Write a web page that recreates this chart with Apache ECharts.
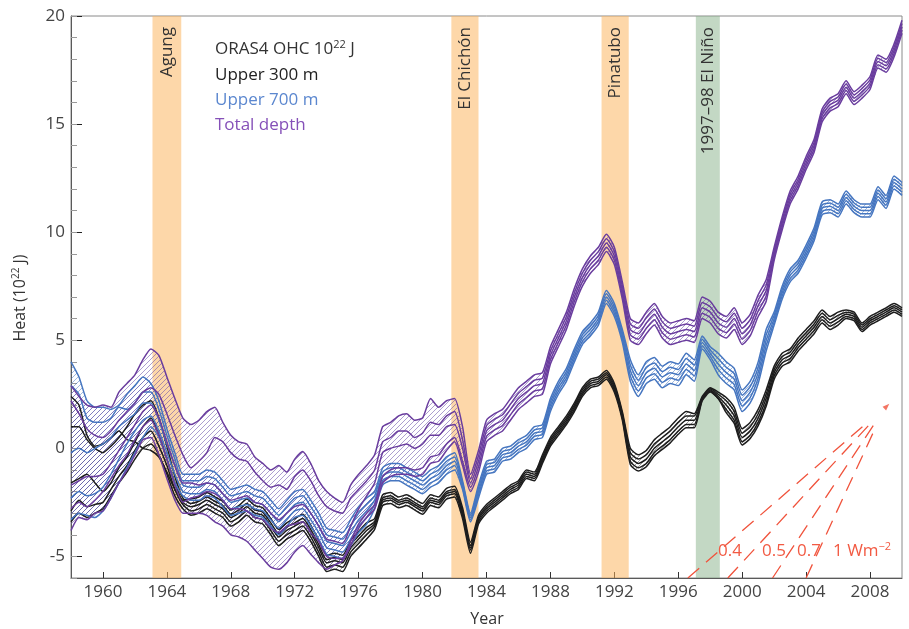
<!DOCTYPE html>
<html><head><meta charset="utf-8">
<script src="https://cdn.jsdelivr.net/npm/echarts@6/dist/echarts.min.js"></script>
<style>html,body{margin:0;padding:0;background:#fff}#c{width:909px;height:629px}</style>
</head><body><div id="c"></div>
<script>
// ---- time base: half-year steps 1958.0 .. 2010.0
const START_YEAR = 1958, STEP = 0.5, N = 105;
const years = Array.from({length: N}, (_, i) => START_YEAR + i * STEP);

// ---- Upper 300 m (black), 5 ensemble members
const black1 = [2.4,2.0,0.6,0.1,0.2,0.5,0.8,0.4,0.3,0.0,-0.1,-0.4,-1.1,-1.9,-2.4,
 -2.35,-2.25,-2.05,-2.25,-2.45,-2.85,-2.65,-2.35,-2.65,-2.75,-3.25,-3.75,-3.45,-3.25,-3.05,-3.55,-4.25,-4.95,-4.85,-4.95,-4.25,-3.85,-3.45,-3.25,-2.15,-2.05,-2.25,-2.15,-2.35,-2.55,-2.15,-2.25,-1.85,-1.75,-2.75,-4.35,
 -3.1,-2.6,-2.3,-2.0,-1.7,-1.5,-1.0,-1.1,-0.3,0.5,1.0,1.5,2.1,2.8,3.2,3.3,3.6,3.0,1.7,0.0,-0.3,-0.1,0.4,0.7,1.0,1.4,1.7,1.6,2.4,2.8,2.6,2.35,1.9,0.9,1.2,1.8,2.7,3.8,4.4,4.6,5.1,5.5,5.9,6.4,6.1,6.3,6.4,6.3,5.8,6.1,6.3,6.5,6.7,6.5];
const black2 = [1.0,1.0,0.4,0.0,-0.2,0.1,0.5,1.0,1.6,2.0,2.2,1.4,0.1,-1.3,-2.3,
 -2.55,-2.45,-2.25,-2.45,-2.65,-3.05,-2.85,-2.55,-2.85,-2.95,-3.45,-3.95,-3.65,-3.45,-3.25,-3.75,-4.45,-5.15,-5.05,-5.15,-4.45,-4.05,-3.65,-3.4,-2.3,-2.2,-2.4,-2.3,-2.5,-2.7,-2.3,-2.4,-2.0,-1.9,-2.9,-4.5,
 -3.2,-2.7,-2.4,-2.1,-1.8,-1.6,-1.1,-1.2,-0.4,0.4,0.9,1.4,2.0,2.7,3.1,3.2,3.5,2.9,1.6,-0.2,-0.5,-0.3,0.2,0.5,0.8,1.2,1.5,1.5,2.35,2.75,2.5,2.2,1.7,0.7,1.0,1.6,2.5,3.65,4.25,4.45,4.95,5.35,5.75,6.25,5.95,6.15,6.3,6.2,5.7,6.0,6.2,6.4,6.6,6.4];
const black3 = [-1.6,-1.4,-1.2,-1.6,-2.0,-1.6,-0.9,-0.4,0.3,1.0,1.4,0.6,-0.5,-1.6,-2.5,
 -2.7,-2.6,-2.4,-2.6,-2.8,-3.2,-3.0,-2.7,-3.0,-3.1,-3.6,-4.1,-3.8,-3.6,-3.4,-3.9,-4.6,-5.3,-5.2,-5.3,-4.6,-4.2,-3.8,-3.5,-2.4,-2.3,-2.5,-2.4,-2.6,-2.8,-2.4,-2.5,-2.1,-2.0,-3.0,-4.6,
 -3.3,-2.8,-2.5,-2.2,-1.9,-1.7,-1.2,-1.3,-0.5,0.3,0.8,1.3,1.9,2.6,3.0,3.1,3.4,2.8,1.5,-0.4,-0.7,-0.5,0.0,0.3,0.6,1.0,1.3,1.3,2.3,2.7,2.4,2.0,1.5,0.5,0.8,1.4,2.3,3.5,4.1,4.3,4.8,5.2,5.6,6.1,5.8,6.0,6.2,6.1,5.6,5.9,6.1,6.3,6.5,6.3];
const black4 = [-2.9,-2.4,-2.7,-2.6,-2.5,-1.9,-1.3,-0.8,-0.1,0.5,0.8,0.1,-0.8,-1.9,-2.6,
 -2.9,-2.8,-2.6,-2.8,-3.0,-3.4,-3.2,-2.9,-3.2,-3.3,-3.8,-4.3,-4.0,-3.8,-3.6,-4.1,-4.8,-5.5,-5.4,-5.5,-4.8,-4.4,-4.0,-3.6,-2.5,-2.4,-2.6,-2.5,-2.7,-2.9,-2.5,-2.6,-2.2,-2.1,-3.1,-4.7,
 -3.4,-2.9,-2.6,-2.3,-2.0,-1.8,-1.3,-1.4,-0.6,0.2,0.7,1.2,1.8,2.5,2.9,3.0,3.3,2.7,1.4,-0.6,-0.9,-0.7,-0.2,0.1,0.4,0.8,1.1,1.1,2.25,2.65,2.3,1.8,1.3,0.3,0.6,1.2,2.1,3.35,3.95,4.15,4.65,5.05,5.45,5.95,5.65,5.85,6.1,6.0,5.5,5.8,6.0,6.2,6.4,6.2];
const black5 = [-3.4,-3.0,-3.2,-3.0,-2.8,-2.2,-1.6,-1.1,-0.5,0.0,0.2,-0.3,-1.2,-2.2,-2.8,
 -3.1,-3.0,-2.8,-3.0,-3.2,-3.6,-3.4,-3.1,-3.4,-3.5,-4.0,-4.5,-4.2,-4.0,-3.8,-4.3,-5.0,-5.7,-5.6,-5.7,-5.0,-4.6,-4.2,-3.75,-2.65,-2.55,-2.75,-2.65,-2.85,-3.05,-2.65,-2.75,-2.35,-2.25,-3.25,-4.85,
 -3.5,-3.0,-2.7,-2.4,-2.1,-1.9,-1.4,-1.5,-0.7,0.1,0.6,1.1,1.7,2.4,2.8,2.9,3.2,2.6,1.3,-0.75,-1.05,-0.85,-0.35,-0.05,0.25,0.65,0.95,0.95,2.2,2.6,2.3,1.65,1.15,0.15,0.45,1.05,1.95,3.2,3.8,4.0,4.5,4.9,5.3,5.8,5.5,5.7,6.0,5.9,5.4,5.7,5.9,6.1,6.3,6.1];

// ---- Upper 700 m (blue)
const blue1 = [4.0,3.3,2.2,1.9,1.9,1.8,2.0,2.5,2.9,3.3,3.0,2.2,0.9,-0.2,-1.2,
 -1.2,-1.2,-1.0,-1.1,-1.5,-1.9,-1.8,-1.7,-1.9,-2.0,-2.4,-2.8,-2.4,-2.0,-1.9,-2.4,-3.0,-3.7,-3.8,-3.9,-3.3,-2.7,-2.3,-2.0,-0.9,-0.7,-0.7,-0.9,-1.1,-1.3,-1.0,-0.8,-0.4,-0.2,-1.5,-3.0,
 -1.7,-0.6,-0.5,0.0,0.1,0.4,0.6,1.0,1.1,2.3,3.1,3.7,4.6,5.4,5.8,6.3,7.3,6.7,5.5,4.1,3.4,4.0,4.2,3.8,4.0,3.9,4.4,4.1,5.2,4.7,4.4,4.0,3.7,2.7,3.1,4.0,5.5,6.3,7.5,8.3,8.7,9.4,10.2,11.4,11.5,11.3,11.9,11.5,11.3,11.3,12.1,11.7,12.6,12.3];
const blue2 = [2.9,2.5,1.4,1.2,1.2,1.4,1.9,1.8,2.1,2.6,2.6,1.8,0.6,-0.5,-1.5,
 -1.5,-1.5,-1.3,-1.4,-1.8,-2.2,-2.1,-2.0,-2.2,-2.3,-2.7,-3.1,-2.7,-2.3,-2.2,-2.7,-3.3,-4.0,-4.1,-4.2,-3.6,-3.0,-2.6,-2.2,-1.1,-0.9,-0.9,-1.1,-1.3,-1.5,-1.2,-1.0,-0.6,-0.4,-1.6,-3.1,
 -1.85,-0.75,-0.65,-0.15,-0.05,0.25,0.45,0.85,0.95,2.15,2.95,3.55,4.45,5.25,5.65,6.15,7.15,6.55,5.35,3.85,3.15,3.75,3.95,3.55,3.75,3.65,4.15,3.85,5.05,4.55,4.15,3.75,3.45,2.45,2.85,3.75,5.25,6.15,7.35,8.15,8.55,9.25,10.05,11.25,11.35,11.15,11.75,11.35,11.15,11.15,11.95,11.55,12.45,12.15];
const blue3 = [-0.2,0.0,-0.2,0.0,0.2,0.5,1.0,1.3,1.6,2.1,2.1,1.3,0.2,-0.8,-1.7,
 -1.8,-1.8,-1.6,-1.7,-2.1,-2.5,-2.4,-2.3,-2.5,-2.6,-3.0,-3.4,-3.0,-2.6,-2.5,-3.0,-3.6,-4.3,-4.4,-4.5,-3.9,-3.3,-2.9,-2.4,-1.3,-1.1,-1.1,-1.3,-1.5,-1.7,-1.4,-1.2,-0.8,-0.6,-1.7,-3.2,
 -2.0,-0.9,-0.8,-0.3,-0.2,0.1,0.3,0.7,0.8,2.0,2.8,3.4,4.3,5.1,5.5,6.0,7.0,6.4,5.2,3.6,2.9,3.5,3.7,3.3,3.5,3.4,3.9,3.6,4.9,4.4,3.9,3.5,3.2,2.2,2.6,3.5,5.0,6.0,7.2,8.0,8.4,9.1,9.9,11.1,11.2,11.0,11.6,11.2,11.0,11.0,11.8,11.4,12.3,12.0];
const blue4 = [-2.3,-2.0,-2.2,-2.1,-1.8,-1.2,-0.5,0.2,0.8,1.3,1.5,0.8,-0.2,-1.2,-2.0,
 -2.1,-2.1,-1.9,-2.0,-2.4,-2.8,-2.7,-2.6,-2.8,-2.9,-3.3,-3.7,-3.3,-2.9,-2.8,-3.3,-3.9,-4.6,-4.7,-4.8,-4.2,-3.6,-3.2,-2.6,-1.5,-1.3,-1.3,-1.5,-1.7,-1.9,-1.6,-1.4,-1.0,-0.8,-1.8,-3.3,
 -2.15,-1.05,-0.95,-0.45,-0.35,-0.05,0.15,0.55,0.65,1.85,2.65,3.25,4.15,4.95,5.35,5.85,6.85,6.25,5.05,3.35,2.65,3.25,3.45,3.05,3.25,3.15,3.65,3.35,4.75,4.25,3.65,3.25,2.95,1.95,2.35,3.25,4.75,5.85,7.05,7.85,8.25,8.95,9.75,10.95,11.05,10.85,11.45,11.05,10.85,10.85,11.65,11.25,12.15,11.85];
const blue5 = [-3.3,-3.0,-3.1,-3.2,-2.9,-2.3,-1.6,-0.9,-0.2,0.5,1.0,0.5,-0.5,-1.6,-2.2,
 -2.4,-2.4,-2.2,-2.3,-2.7,-3.1,-3.0,-2.9,-3.1,-3.2,-3.6,-4.0,-3.6,-3.2,-3.1,-3.6,-4.2,-4.9,-5.0,-5.1,-4.5,-3.9,-3.5,-2.8,-1.7,-1.5,-1.5,-1.7,-1.9,-2.1,-1.8,-1.6,-1.2,-1.0,-1.9,-3.4,
 -2.3,-1.2,-1.1,-0.6,-0.5,-0.2,0.0,0.4,0.5,1.7,2.5,3.1,4.0,4.8,5.2,5.7,6.7,6.1,4.9,3.1,2.4,3.0,3.2,2.8,3.0,2.9,3.4,3.1,4.6,4.1,3.4,3.0,2.7,1.7,2.1,3.0,4.5,5.7,6.9,7.7,8.1,8.8,9.6,10.8,10.9,10.7,11.3,10.9,10.7,10.7,11.5,11.1,12.0,11.7];

// ---- Total depth (purple)
const purple1 = [2.9,2.4,2.0,1.9,2.0,1.9,2.6,3.0,3.4,4.1,4.6,4.3,3.3,2.3,1.4,
 1.1,1.3,1.7,1.9,1.2,0.6,0.3,0.2,-0.4,-0.7,-1.0,-0.8,-1.1,-0.5,-0.15,-0.7,-1.5,-2.0,-2.3,-2.5,-1.7,-1.2,-0.8,-0.3,1.0,1.2,1.5,1.6,1.3,1.4,2.3,1.9,2.2,2.3,1.0,-1.2,
 -0.1,1.3,1.6,1.8,2.3,2.8,3.1,3.4,3.5,4.7,5.5,6.3,7.4,8.3,8.9,9.3,9.9,9.3,7.7,6.0,5.8,6.3,6.7,6.1,5.8,5.9,6.0,5.9,7.0,6.8,6.3,6.1,6.5,5.8,6.2,7.1,7.8,9.3,10.7,11.9,12.6,13.5,14.3,15.7,16.2,16.4,17.0,16.5,16.8,17.2,18.2,18.0,18.7,19.8];
const purple2 = [2.2,1.6,0.9,0.6,0.5,0.8,1.3,1.7,2.1,2.6,2.8,2.5,1.6,0.6,-0.3,
 -0.9,-0.6,-0.2,0.5,0.3,-0.2,-0.5,-0.6,-1.1,-1.5,-1.8,-1.7,-1.9,-1.3,-1.0,-1.5,-2.2,-2.7,-2.9,-3.0,-2.3,-1.9,-1.5,-1.0,0.3,0.5,0.8,0.8,0.5,0.7,1.2,1.1,1.5,1.7,0.4,-1.4,
 -0.35,1.05,1.35,1.55,2.05,2.55,2.85,3.15,3.25,4.5,5.3,6.1,7.2,8.1,8.7,9.1,9.7,9.1,7.5,5.75,5.55,6.05,6.45,5.85,5.55,5.65,5.75,5.65,6.75,6.55,6.05,5.85,6.25,5.55,5.95,6.85,7.55,9.15,10.55,11.75,12.45,13.35,14.15,15.55,16.05,16.25,16.85,16.35,16.65,17.05,18.05,17.85,18.55,19.65];
const purple3 = [-1.7,-1.5,-1.3,-1.3,-1.2,-0.7,-0.1,0.5,1.1,1.7,2.0,1.4,0.3,-0.8,-1.6,
 -1.6,-1.7,-1.6,-1.7,-2.1,-2.4,-2.3,-2.2,-2.5,-2.6,-3.0,-3.3,-3.0,-2.7,-2.6,-3.0,-3.6,-4.2,-4.3,-4.4,-3.6,-2.8,-2.2,-1.6,-0.2,0.0,0.1,0.2,0.0,0.2,0.6,0.6,1.0,1.1,0.0,-1.6,
 -0.6,0.8,1.1,1.3,1.8,2.3,2.6,2.9,3.0,4.3,5.1,5.9,7.0,7.9,8.5,8.9,9.5,8.9,7.3,5.5,5.3,5.8,6.2,5.6,5.3,5.4,5.5,5.4,6.5,6.3,5.8,5.6,6.0,5.3,5.7,6.6,7.3,9.0,10.4,11.6,12.3,13.2,14.0,15.4,15.9,16.1,16.7,16.2,16.5,16.9,17.9,17.7,18.4,19.5];
const purple4 = [-2.8,-2.5,-2.7,-2.4,-2.0,-1.4,-0.8,-0.3,0.4,1.0,1.3,0.6,-0.5,-1.7,-2.5,
 -2.3,-2.2,-2.0,-2.1,-2.4,-2.8,-2.8,-2.9,-3.2,-3.3,-3.7,-3.9,-3.6,-3.5,-3.4,-3.9,-4.3,-5.0,-5.1,-5.1,-4.3,-3.5,-3.0,-2.6,-1.3,-1.0,-0.9,-0.9,-1.0,-0.9,-0.4,-0.3,0.2,0.5,-0.6,-1.8,
 -0.85,0.55,0.85,1.05,1.55,2.05,2.35,2.65,2.75,4.1,4.9,5.7,6.8,7.7,8.3,8.7,9.3,8.7,7.1,5.25,5.05,5.55,5.95,5.35,5.05,5.15,5.25,5.15,6.25,6.05,5.55,5.35,5.75,5.05,5.45,6.35,7.05,8.85,10.25,11.45,12.15,13.05,13.85,15.25,15.75,15.95,16.55,16.05,16.35,16.75,17.75,17.55,18.25,19.35];
const purple5 = [-3.8,-3.2,-3.3,-3.0,-2.9,-2.3,-1.6,-1.0,-0.3,0.4,0.5,-0.3,-1.4,-2.4,-3.0,
 -3.0,-3.0,-3.1,-3.4,-3.6,-4.0,-4.1,-4.3,-4.7,-5.1,-5.5,-5.6,-5.3,-4.8,-4.5,-4.9,-5.3,-5.6,-5.4,-5.2,-4.5,-3.7,-3.2,-2.8,-1.6,-1.3,-1.2,-1.2,-1.3,-1.2,-0.7,-0.6,-0.1,0.3,-0.8,-2.0,
 -1.1,0.3,0.6,0.8,1.3,1.8,2.1,2.4,2.5,3.9,4.7,5.5,6.6,7.5,8.1,8.5,9.1,8.5,6.9,5.0,4.8,5.3,5.7,5.1,4.8,4.9,5.0,4.9,6.0,5.8,5.3,5.1,5.5,4.8,5.2,6.1,6.8,8.7,10.1,11.3,12.0,12.9,13.7,15.1,15.6,15.8,16.4,15.9,16.2,16.6,17.6,17.4,18.1,19.2];

// ---- event bands
const bandNames = ['Agung', 'El Chichón', 'Pinatubo', '1997–98 El Niño'];
const bandStart = [1963.1, 1981.8, 1991.2, 1997.1];
const bandEnd   = [1964.9, 1983.5, 1992.9, 1998.6];
const bandKind  = ['volcano', 'volcano', 'volcano', 'enso'];

// ---- heating-rate reference lines (W m-2)
const rateLabels = ['0.4', '0.5', '0.7', '1'];
const rateLow  = [[1996.6, -6], [1999.1, -6], [2001.9, -6], [2004.0, -6]];
const rateHigh = [[2007.6, 1.05], [2007.9, 1.05], [2008.2, 1.05], [2008.4, 1.05]];
const rateTip  = [2009.05, 1.95];

// ---- axis ticks
const xTickLabels = [1960,1964,1968,1972,1976,1980,1984,1988,1992,1996,2000,2004,2008];
const yTickLabels = [-5,0,5,10,15,20];

// ================= chart =================
const FONT = '"Open Sans", "Noto Sans", sans-serif';
const groups = [
  {members:[black1,black2,black3,black4,black5], color:'#1d1d1d', hatch:'rgba(50,50,50,0.5)'},
  {members:[blue1,blue2,blue3,blue4,blue5], color:'#4676c0', hatch:'rgba(60,110,190,0.55)'},
  {members:[purple1,purple2,purple3,purple4,purple5], color:'#6a3d9e', hatch:'rgba(105,80,170,0.62)'}
];
function hatchCanvas(color){
  const s = 5, c = document.createElement('canvas'); c.width = s; c.height = s;
  const g = c.getContext('2d'); g.strokeStyle = color; g.lineWidth = 0.9;
  g.beginPath();
  g.moveTo(-1, s+1); g.lineTo(s+1, -1);
  g.moveTo(-1, 1); g.lineTo(1, -1);
  g.moveTo(s-1, s+1); g.lineTo(s+1, s-1);
  g.stroke();
  return c;
}
const series = [];
// hatched spread polygons
groups.forEach(gr => {
  const lo = years.map((_, i) => Math.min(...gr.members.map(m => m[i])));
  const hi = years.map((_, i) => Math.max(...gr.members.map(m => m[i])));
  const pat = {image: hatchCanvas(gr.hatch), repeat: 'repeat'};
  series.push({
    type: 'custom', z: 1, silent: true,
    data: [[START_YEAR, 0]],
    renderItem: function(params, api){
      const up = hi.map((v, i) => api.coord([years[i], v]));
      const dn = lo.map((v, i) => api.coord([years[i], v])).reverse();
      return {type: 'polygon', shape: {points: up.concat(dn)}, style: {fill: pat, stroke: null}};
    }
  });
});
// member lines
groups.forEach(gr => {
  gr.members.forEach(m => {
    series.push({
      type: 'line', z: 2, smooth: 0.2, showSymbol: false, silent: true,
      data: m.map((v, i) => [years[i], v]),
      lineStyle: {color: gr.color, width: 1.5}
    });
  });
});
// bands overlay
series.push({
  type: 'line', z: 5, data: [], silent: true,
  markArea: {
    silent: true,
    data: bandStart.map((s, i) => [
      {xAxis: s, itemStyle: {color: bandKind[i] === 'volcano' ? 'rgba(251,178,90,0.52)' : 'rgba(136,178,138,0.5)'}},
      {xAxis: bandEnd[i]}
    ])
  }
});
// heating-rate dashed lines
rateLow.forEach((p, i) => {
  series.push({
    type: 'line', z: 3, silent: true, showSymbol: false,
    data: [p, rateHigh[i]],
    lineStyle: {color: '#f0533c', width: 1.3, type: [15, 9]}
  });
});
series.push({
  type: 'scatter', z: 3, silent: true, data: [rateTip],
  symbol: 'triangle', symbolSize: [5, 7], symbolRotate: -45,
  itemStyle: {color: '#f0533c'}
});

const chart = echarts.init(document.getElementById('c'));
chart.setOption({
  animation: false,
  backgroundColor: '#fff',
  grid: {left: 71, right: 7, top: 16, bottom: 51, show: true, borderColor: '#8a8a8a', borderWidth: 1},
  xAxis: {
    type: 'value', min: 1958, max: 2010,
    axisLine: {onZero: false, lineStyle: {color: '#5a5a5a', width: 1}},
    axisTick: {inside: true, length: 6, customValues: xTickLabels, lineStyle: {color: '#333'}},
    axisLabel: {customValues: xTickLabels, formatter: v => String(v), color: '#444', fontSize: 17, fontFamily: FONT, margin: 6},
    splitLine: {show: false}
  },
  yAxis: [{
    type: 'value', min: -6, max: 20,
    axisLine: {show: true, onZero: false, lineStyle: {color: '#5a5a5a', width: 1}},
    axisTick: {show: true, inside: true, length: 11, customValues: yTickLabels, lineStyle: {color: '#222'}},
    axisLabel: {customValues: yTickLabels, formatter: v => String(v), color: '#444', fontSize: 17, fontFamily: FONT, margin: 6},
    splitLine: {show: false}
  }, {
    type: 'value', min: -6, max: 20, interval: 1, position: 'left',
    axisLine: {show: false, onZero: false},
    axisTick: {show: true, inside: true, length: 6, lineStyle: {color: '#999'}},
    axisLabel: {show: false}, splitLine: {show: false}
  }],
  series: series
});

// ---- texts
const g = [];
const rich = (size, color) => ({
  a: {fontSize: size, fontFamily: FONT, fill: color, color: color},
  s: {fontSize: Math.round(size*0.62), fontFamily: FONT, fill: color, color: color, verticalAlign: 'top', padding: [0,0,8,0]}
});
g.push({type: 'text', x: 215, y: 49, z: 20, style: {text: '{a|ORAS4 OHC 10}{s|22}{a| J}', rich: rich(17, '#333'), align: 'left', textAlign: 'left', verticalAlign: 'middle', textVerticalAlign: 'middle'}});
const leg = [['Upper 300 m', '#222', 75], ['Upper 700 m', '#5b87cf', 100], ['Total depth', '#8550b8', 125]];
leg.forEach(l => g.push({type: 'text', x: 215, y: l[2], z: 20, style: {text: l[0], fill: l[1], font: '17px ' + FONT, align: 'left', textAlign: 'left', verticalAlign: 'middle', textVerticalAlign: 'middle'}}));
// band labels
bandNames.forEach((nm, i) => {
  const px = chart.convertToPixel({xAxisIndex: 0, yAxisIndex: 0}, [(bandStart[i] + bandEnd[i]) / 2, 0]);
  g.push({type: 'text', x: px[0], y: 27, rotation: Math.PI / 2, z: 20,
    style: {text: nm, fill: '#333', font: '17px ' + FONT, align: 'right', textAlign: 'right', verticalAlign: 'middle', textVerticalAlign: 'middle'}});
});
// rate labels
const rateLabelX = [718, 762, 797, 833];
rateLabels.forEach((t, i) => {
  const txt = i === 3 ? '{a|1 Wm}{s|−2}' : '{a|' + t + '}';
  g.push({type: 'text', x: rateLabelX[i], y: 551, z: 20, style: {text: txt, rich: rich(17, '#f25a43'), align: 'left', textAlign: 'left', verticalAlign: 'middle', textVerticalAlign: 'middle'}});
});
// axis titles
g.push({type: 'text', x: 20, y: 298, rotation: Math.PI / 2, z: 20, style: {text: '{a|Heat (10}{s|22}{a| J)}', rich: rich(16, '#333'), align: 'center', textAlign: 'center', verticalAlign: 'middle', textVerticalAlign: 'middle'}});
g.push({type: 'text', x: 487, y: 619, z: 20, style: {text: 'Year', fill: '#333', font: '16px ' + FONT, align: 'center', textAlign: 'center', verticalAlign: 'middle', textVerticalAlign: 'middle'}});
chart.setOption({graphic: {elements: g}});
</script>
</body></html>
